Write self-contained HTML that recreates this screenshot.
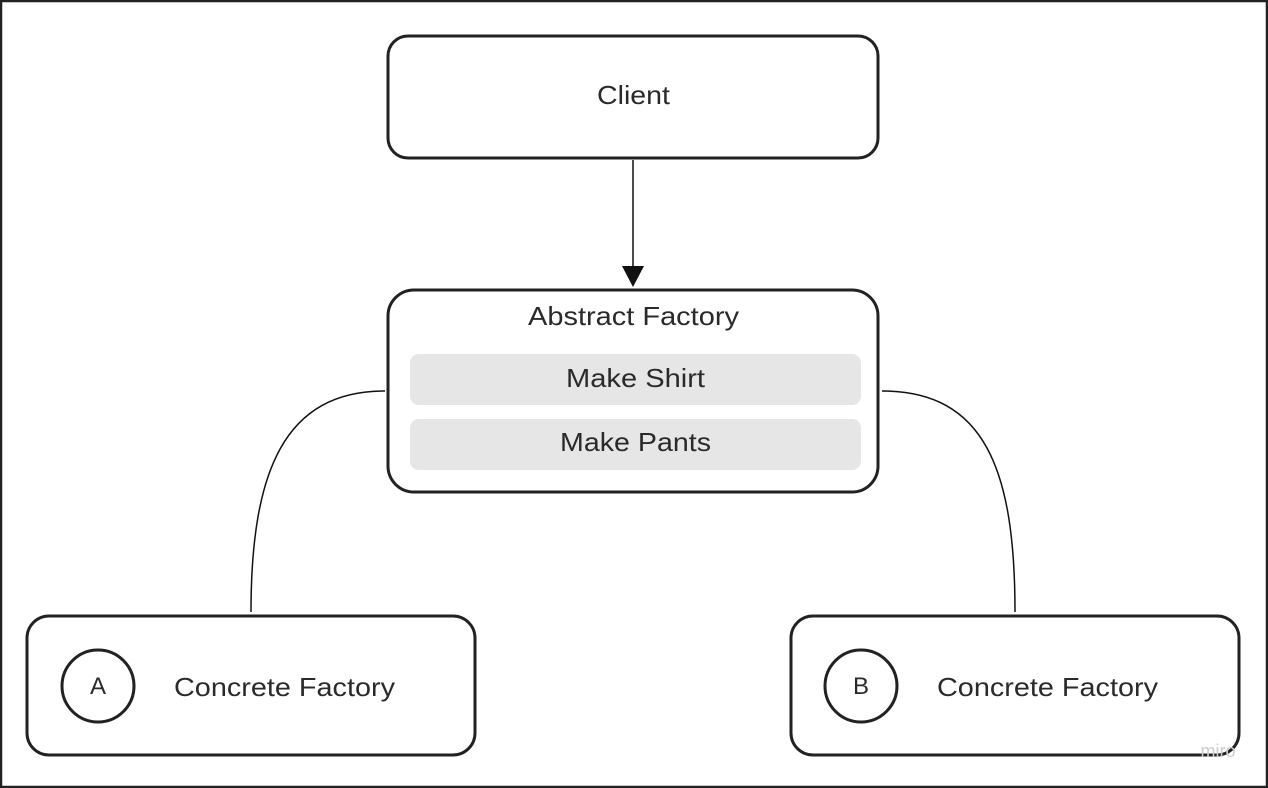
<!DOCTYPE html>
<html><head><meta charset="utf-8"><style>
html,body{margin:0;padding:0;background:#fff;}
svg{display:block;}
text{font-family:"Liberation Sans",sans-serif;fill:#2a2a2a;}
</style></head><body>
<svg width="1268" height="788" viewBox="0 0 1268 788" xmlns="http://www.w3.org/2000/svg">
<rect x="1" y="1" width="1266" height="786" fill="#fff" stroke="#222" stroke-width="2.5"/>
<g fill="#fff" stroke="#222" stroke-width="3">
<rect x="388" y="36" width="490" height="122" rx="20"/>
<rect x="388" y="290" width="490" height="202" rx="26"/>
<rect x="27" y="616" width="448" height="139" rx="22"/>
<rect x="791" y="616" width="448" height="139" rx="22"/>
<circle cx="98" cy="686" r="36"/>
<circle cx="861" cy="686" r="36"/>
</g>
<rect x="410" y="354" width="451" height="51" rx="9" fill="#e6e6e6"/>
<rect x="410" y="419" width="451" height="51" rx="9" fill="#e6e6e6"/>
<line x1="633" y1="160" x2="633" y2="268" stroke="#111" stroke-width="1.5"/>
<polygon points="622,266 644,266 633,287" fill="#111"/>
<path d="M385 391 C 285 391 251 470 251 612" fill="none" stroke="#111" stroke-width="1.5"/>
<path d="M882 391 C 985 391 1015 470 1015 612" fill="none" stroke="#111" stroke-width="1.5"/>
<g font-size="26" lengthAdjust="spacingAndGlyphs">
<text x="597" y="104" textLength="73" lengthAdjust="spacingAndGlyphs">Client</text>
<text x="528" y="325" textLength="211" lengthAdjust="spacingAndGlyphs">Abstract Factory</text>
<text x="566" y="387" textLength="139" lengthAdjust="spacingAndGlyphs">Make Shirt</text>
<text x="560" y="451" textLength="151" lengthAdjust="spacingAndGlyphs">Make Pants</text>
<text x="174" y="696" textLength="221" lengthAdjust="spacingAndGlyphs">Concrete Factory</text>
<text x="937" y="696" textLength="221" lengthAdjust="spacingAndGlyphs">Concrete Factory</text>
</g>
<text x="98" y="694" font-size="24" text-anchor="middle">A</text>
<text x="861" y="694" font-size="24" text-anchor="middle">B</text>
<text x="1218" y="757" font-size="18" text-anchor="middle" style="fill:#ccc">miro</text>
</svg>
</body></html>
